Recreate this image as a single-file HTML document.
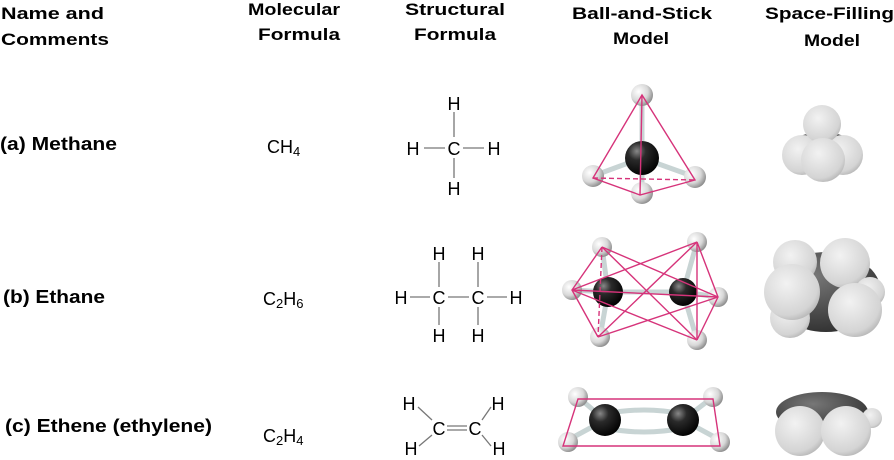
<!DOCTYPE html>
<html><head><meta charset="utf-8"><style>
html,body{margin:0;padding:0;background:#fff;}
svg{display:block;}
</style></head><body>
<svg width="894" height="460" viewBox="0 0 894 460" xmlns="http://www.w3.org/2000/svg">
<defs>
<radialGradient id="h" cx="0.35" cy="0.35" r="0.7"><stop offset="0" stop-color="#ffffff"/><stop offset="0.6" stop-color="#d8d8d8"/><stop offset="1" stop-color="#8a8a8a"/></radialGradient>
<radialGradient id="c" cx="0.35" cy="0.3" r="0.75"><stop offset="0" stop-color="#888"/><stop offset="0.35" stop-color="#2a2a2a"/><stop offset="1" stop-color="#000"/></radialGradient>
<radialGradient id="hs" cx="0.4" cy="0.35" r="0.75"><stop offset="0" stop-color="#f2f2f2"/><stop offset="0.75" stop-color="#d4d4d4"/><stop offset="1" stop-color="#a8a8a8"/></radialGradient>
<radialGradient id="cs" cx="0.4" cy="0.3" r="0.8"><stop offset="0" stop-color="#777"/><stop offset="1" stop-color="#2a2a2a"/></radialGradient>
</defs>
<g font-family="Liberation Sans, Arial, sans-serif" font-weight="bold" font-size="17" fill="#000">
<text x="1" y="19" textLength="103" lengthAdjust="spacingAndGlyphs">Name and</text>
<text x="1" y="45" textLength="108" lengthAdjust="spacingAndGlyphs">Comments</text>
<text x="248" y="15" textLength="92" lengthAdjust="spacingAndGlyphs">Molecular</text>
<text x="258" y="40" textLength="82" lengthAdjust="spacingAndGlyphs">Formula</text>
<text x="405" y="15" textLength="100" lengthAdjust="spacingAndGlyphs">Structural</text>
<text x="414" y="40" textLength="82" lengthAdjust="spacingAndGlyphs">Formula</text>
<text x="572" y="19" textLength="140" lengthAdjust="spacingAndGlyphs">Ball-and-Stick</text>
<text x="613" y="44" textLength="56" lengthAdjust="spacingAndGlyphs">Model</text>
<text x="765" y="19" textLength="129" lengthAdjust="spacingAndGlyphs">Space-Filling</text>
<text x="804" y="46" textLength="56" lengthAdjust="spacingAndGlyphs">Model</text>
</g>
<g font-family="Liberation Sans, Arial, sans-serif" font-weight="bold" font-size="18" fill="#000">
<text x="0" y="150" textLength="117" lengthAdjust="spacingAndGlyphs">(a) Methane</text>
<text x="3" y="303" textLength="102" lengthAdjust="spacingAndGlyphs">(b) Ethane</text>
<text x="5" y="432" textLength="207" lengthAdjust="spacingAndGlyphs">(c) Ethene (ethylene)</text>
</g>
<g font-family="Liberation Sans, Arial, sans-serif" font-size="18" fill="#000">
<text x="267" y="153">CH<tspan font-size="13" dy="3">4</tspan></text>
<text x="263" y="305">C<tspan font-size="13" dy="3">2</tspan><tspan dy="-3">H</tspan><tspan font-size="13" dy="3">6</tspan></text>
<text x="263" y="442">C<tspan font-size="13" dy="3">2</tspan><tspan dy="-3">H</tspan><tspan font-size="13" dy="3">4</tspan></text>
</g>
<!-- structural -->
<g font-family="Liberation Sans, Arial, sans-serif" font-size="18" fill="#000" text-anchor="middle">
<text x="454" y="110">H</text><text x="454" y="155">C</text><text x="413" y="155">H</text><text x="494" y="155">H</text><text x="454" y="195">H</text>
<text x="439" y="260">H</text><text x="478" y="260">H</text>
<text x="401" y="304">H</text><text x="439" y="304">C</text><text x="478" y="304">C</text><text x="516" y="304">H</text>
<text x="439" y="342">H</text><text x="478" y="342">H</text>
<text x="409" y="410">H</text><text x="498" y="410">H</text>
<text x="439" y="435">C</text><text x="475" y="435">C</text>
<text x="411" y="455">H</text><text x="499" y="455">H</text>
</g>
<g stroke="#777" stroke-width="1.3" fill="none">
<line x1="424" y1="148" x2="445" y2="148"/><line x1="463" y1="148" x2="484" y2="148"/>
<line x1="454" y1="112" x2="454" y2="137"/><line x1="454" y1="158" x2="454" y2="178"/>
<line x1="410" y1="297" x2="430" y2="297"/><line x1="448" y1="297" x2="469" y2="297"/><line x1="487" y1="297" x2="507" y2="297"/>
<line x1="439" y1="262" x2="439" y2="287"/><line x1="478" y1="262" x2="478" y2="287"/>
<line x1="439" y1="307" x2="439" y2="325"/><line x1="478" y1="307" x2="478" y2="325"/>
<line x1="447" y1="426" x2="467" y2="426"/><line x1="447" y1="430" x2="467" y2="430"/>
<line x1="418" y1="407" x2="432" y2="420"/><line x1="491" y1="407" x2="482" y2="420"/>
<line x1="419" y1="446" x2="432" y2="435"/><line x1="491" y1="446" x2="482" y2="435"/>
</g>
<!-- ball and stick methane -->
<g stroke="#c8d4d4" stroke-width="5" stroke-linecap="round">
<line x1="642" y1="95" x2="642" y2="158"/><line x1="593" y1="176" x2="642" y2="158"/><line x1="695" y1="177" x2="642" y2="158"/><line x1="642" y1="192" x2="642" y2="158"/>
</g>
<circle cx="642" cy="95" r="11" fill="url(#h)"/>
<circle cx="642" cy="158" r="17" fill="url(#c)"/>
<circle cx="593" cy="176" r="11" fill="url(#h)"/>
<circle cx="695" cy="177" r="11" fill="url(#h)"/>
<circle cx="642" cy="193" r="11" fill="url(#h)"/>
<g stroke="#d6337a" stroke-width="1.4" fill="none">
<polygon points="642,95 593,178 640,195 695,180"/><line x1="642" y1="95" x2="640" y2="195"/>
<line x1="593" y1="178" x2="695" y2="180" stroke-dasharray="5,3"/>
</g>
<!-- ethane ball and stick -->
<g stroke="#c8d4d4" stroke-width="5" stroke-linecap="round">
<line x1="608" y1="292" x2="683" y2="292"/><line x1="608" y1="292" x2="602" y2="247"/><line x1="608" y1="292" x2="572" y2="290"/><line x1="608" y1="292" x2="600" y2="337"/>
<line x1="683" y1="292" x2="697" y2="242"/><line x1="683" y1="292" x2="718" y2="297"/><line x1="683" y1="292" x2="697" y2="340"/>
</g>
<circle cx="602" cy="247" r="10" fill="url(#h)"/><circle cx="697" cy="242" r="10" fill="url(#h)"/>
<circle cx="572" cy="290" r="10" fill="url(#h)"/><circle cx="718" cy="297" r="10" fill="url(#h)"/>
<circle cx="600" cy="337" r="10" fill="url(#h)"/><circle cx="697" cy="340" r="10" fill="url(#h)"/>
<circle cx="608" cy="292" r="15" fill="url(#c)"/><circle cx="683" cy="292" r="14" fill="url(#c)"/>
<g stroke="#d6337a" stroke-width="1.4" fill="none">
<polyline points="602,247 572,290 598,337"/><line x1="602" y1="247" x2="598" y2="337" stroke-dasharray="5,3"/>
<polygon points="697,242 718,297 697,340"/>
<line x1="602" y1="247" x2="718" y2="297"/>
<line x1="697" y1="242" x2="572" y2="290"/>
<line x1="572" y1="290" x2="718" y2="297"/>
<line x1="598" y1="337" x2="718" y2="297"/>
<line x1="572" y1="290" x2="697" y2="340"/>
<line x1="602" y1="247" x2="697" y2="340"/><line x1="598" y1="337" x2="697" y2="242"/>
</g>
<!-- ethene ball and stick -->
<g stroke="#c8d4d4" stroke-width="5" stroke-linecap="round" fill="none">
<path d="M605,414 Q644,406 683,414"/><path d="M605,428 Q644,436 683,428"/>
<line x1="605" y1="420" x2="578" y2="397"/><line x1="605" y1="420" x2="568" y2="440"/>
<line x1="683" y1="420" x2="713" y2="397"/><line x1="683" y1="420" x2="720" y2="440"/>
</g>
<circle cx="578" cy="397" r="10" fill="url(#h)"/><circle cx="713" cy="397" r="10" fill="url(#h)"/>
<circle cx="568" cy="442" r="10" fill="url(#h)"/><circle cx="720" cy="442" r="10" fill="url(#h)"/>
<circle cx="605" cy="420" r="16" fill="url(#c)"/><circle cx="683" cy="420" r="16" fill="url(#c)"/>
<polygon points="578,399 713,399 720,446 563,446" fill="none" stroke="#d6337a" stroke-width="1.4"/>
<!-- space filling methane -->
<ellipse cx="822" cy="150" rx="34" ry="18" fill="url(#cs)"/>
<circle cx="802" cy="155" r="20" fill="url(#hs)"/>
<circle cx="843" cy="155" r="20" fill="url(#hs)"/>
<circle cx="822" cy="124" r="19" fill="url(#hs)"/>
<circle cx="823" cy="160" r="22" fill="url(#hs)"/>
<!-- ethane space filling -->
<ellipse cx="826" cy="292" rx="55" ry="40" fill="url(#cs)"/>
<circle cx="795" cy="262" r="22" fill="url(#hs)"/>
<circle cx="845" cy="263" r="25" fill="url(#hs)"/>
<circle cx="870" cy="292" r="15" fill="url(#hs)"/>
<circle cx="790" cy="318" r="20" fill="url(#hs)"/>
<circle cx="792" cy="292" r="28" fill="url(#hs)"/>
<circle cx="855" cy="310" r="27" fill="url(#hs)"/>
<!-- ethene space filling -->
<ellipse cx="822" cy="412" rx="46" ry="20" fill="url(#cs)"/>
<circle cx="872" cy="418" r="10" fill="url(#hs)"/>
<circle cx="800" cy="431" r="25" fill="url(#hs)"/>
<circle cx="846" cy="431" r="25" fill="url(#hs)"/>
</svg>
</body></html>
